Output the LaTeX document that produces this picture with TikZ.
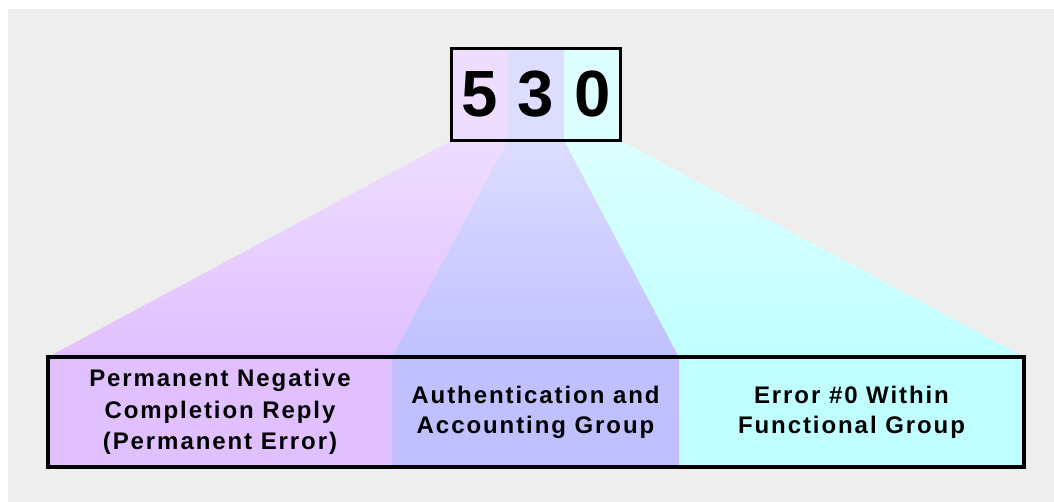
\documentclass[tikz,border=0pt]{standalone}
\usepackage{fontspec}
\setmainfont{Liberation Sans}
\newfontfamily\cellfont[LetterSpace=8]{Liberation Sans}
\usetikzlibrary{positioning}
\definecolor{bggray}{HTML}{EEEEEE}
\definecolor{permtop}{HTML}{EEDDFF}
\definecolor{permbot}{HTML}{E0C0FF}
\definecolor{authtop}{HTML}{DDDDFF}
\definecolor{authbot}{HTML}{C0C0FF}
\definecolor{errtop}{HTML}{DDFFFF}
\definecolor{errbot}{HTML}{C0FFFF}
\tikzset{
  digit/.style={fill=#1, minimum width=42.25pt, minimum height=69pt, inner sep=0pt, outer sep=0pt,
    font=\fontsize{49}{49}\selectfont\bfseries},
  cell/.style={fill=#1, minimum height=82.5pt, inner sep=0pt, outer sep=0pt, align=center,
    font=\cellfont\bfseries\fontsize{18}{22.5}\selectfont},
}
\begin{document}
\begin{tikzpicture}[x=0.75pt, y=-0.75pt]
  \useasboundingbox (0,0) rectangle (1054,502);
  \fill[white] (0,0) rectangle (1054,502);
  \fill[bggray] (8,9) rectangle (1054,502);
  % Reply code digits
  \node[digit=permtop] (d5) at (479.67,94.5) {5};
  \node[digit=authtop] (d3) at (536,94.5) {3};
  \node[digit=errtop] (d0) at (592.33,94.5) {0};
  % Meaning of each digit
  \node[cell=permbot, minimum width=258pt, font=\cellfont\bfseries\fontsize{18}{23.5}\selectfont] (perm) at (220,412)
    {Permanent Negative\\Completion Reply\\(Permanent Error)};
  \node[cell=authbot, minimum width=215.25pt] (auth) at (535.5,412) {Authentication and\\Accounting Group};
  \node[cell=errbot, minimum width=258.75pt] (err) at (851.5,412) {Error \#0 Within\\Functional Group};
  % Fans
  \shade[top color=permtop, bottom color=permbot] (d5.south west) -- (d5.south east) -- (perm.north east) -- (perm.north west) -- cycle;
  \shade[top color=authtop, bottom color=authbot] (d3.south west) -- (d3.south east) -- (auth.north east) -- (auth.north west) -- cycle;
  \shade[top color=errtop, bottom color=errbot] (d0.south west) -- (d0.south east) -- (err.north east) -- (err.north west) -- cycle;
  % Frames
  \draw[line width=2.25pt] (d5.north west) rectangle (d0.south east);
  \draw[line width=3pt] (perm.north west) rectangle (err.south east);
\end{tikzpicture}
\end{document}
